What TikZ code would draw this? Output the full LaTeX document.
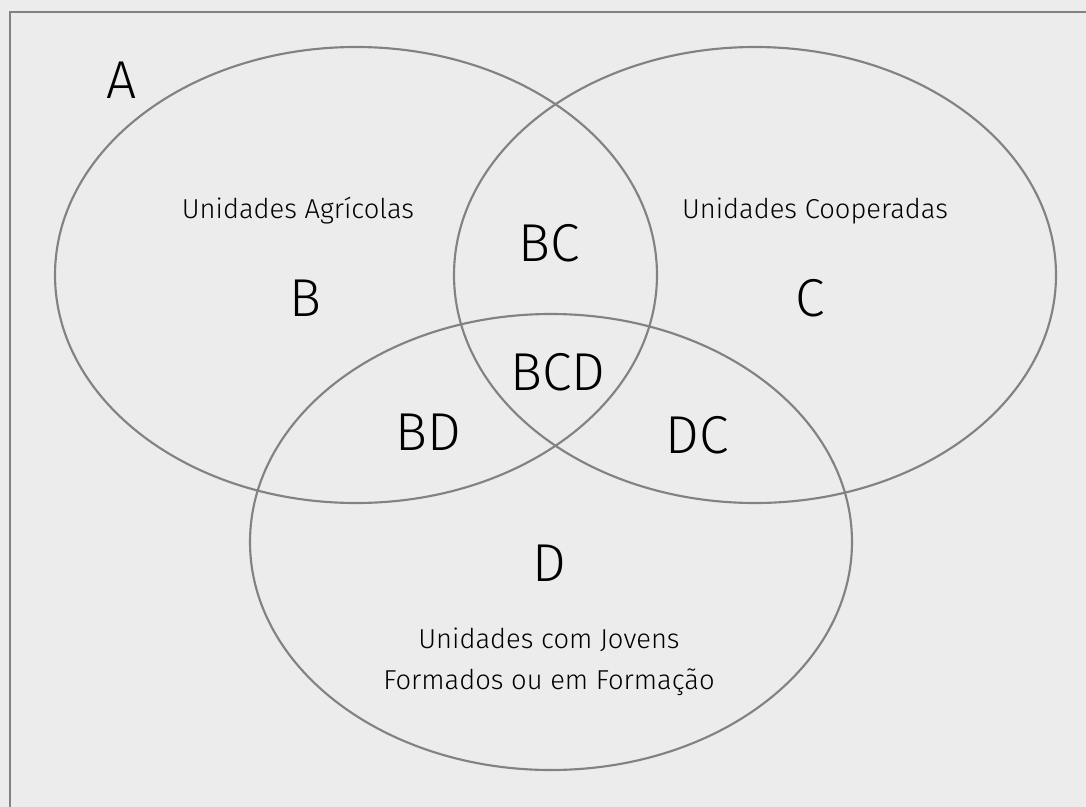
\documentclass[tikz,border=0pt]{standalone}
\usepackage{fontspec}
\setmainfont{Fira Sans Light}
\definecolor{bg}{HTML}{ECECEC}
\definecolor{ln}{HTML}{828282}
\begin{document}
\begin{tikzpicture}[x=0.75pt,y=-0.75pt,
  setline/.style={draw=ln,line width=1.6pt},
  big/.style={font=\fontsize{40}{44}\selectfont,text=black,inner sep=0pt},
  small/.style={font=\fontsize{20.5}{24}\selectfont,text=black,inner sep=0pt,align=center}]
\useasboundingbox (0,0) rectangle (1086,807);
\clip (0,0) rectangle (1086,807);
\fill[bg] (0,0) rectangle (1086,807);
\draw[draw=ln,line width=2.2pt] (10,12) rectangle (1100,830);
\draw[setline] (356,275) ellipse [x radius=301, y radius=228];
\draw[setline] (755,275) ellipse [x radius=301, y radius=228];
\draw[setline] (551,542) ellipse [x radius=301, y radius=228];
\node[big] (a) at (122,80) {A};
\node[big] (b) at (305,298) {B};
\node[big] (c) at (810,298) {C};
\node[big] (bc) at (549,243) {BC};
\node[big] (bcd) at (558,372) {BCD};
\node[big] (bd) at (428,432) {BD};
\node[big] (dc) at (697,435) {DC};
\node[big] (d) at (549,563) {D};
\node[small] (lb) at (298,211) {Unidades Agrícolas};
\node[small] (lc) at (815,211) {Unidades Cooperadas};
\node[small] (ld) at (549,662) {Unidades com Jovens\\[7pt]Formados ou em Formação};
\end{tikzpicture}
\end{document}
